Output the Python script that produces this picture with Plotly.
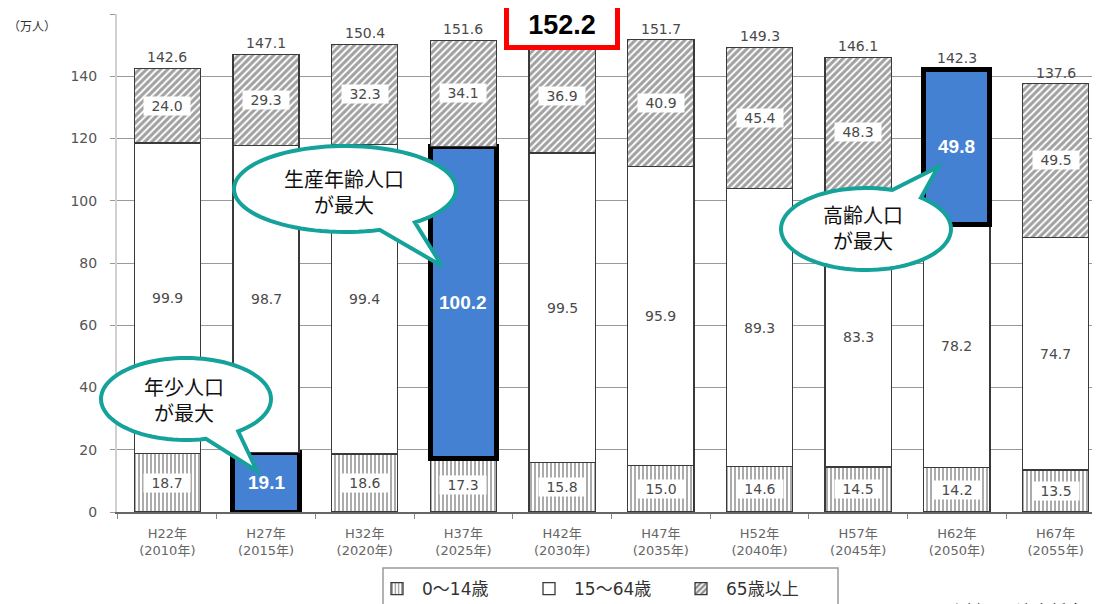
import math
import plotly.graph_objects as go

# ---------------- data ----------------
categories = ["H22年<br>(2010年)", "H27年<br>(2015年)", "H32年<br>(2020年)", "H37年<br>(2025年)",
              "H42年<br>(2030年)", "H47年<br>(2035年)", "H52年<br>(2040年)", "H57年<br>(2045年)",
              "H62年<br>(2050年)", "H67年<br>(2055年)"]
age_0_14 = [18.7, 19.1, 18.6, 17.3, 15.8, 15.0, 14.6, 14.5, 14.2, 13.5]
age_15_64 = [99.9, 98.7, 99.4, 100.2, 99.5, 95.9, 89.3, 83.3, 78.2, 74.7]
age_65_plus = [24.0, 29.3, 32.3, 34.1, 36.9, 40.9, 45.4, 48.3, 49.8, 49.5]
totals = [142.6, 147.1, 150.4, 151.6, 152.2, 151.7, 149.3, 146.1, 142.3, 137.6]
series_names = ["0～14歳", "15～64歳", "65歳以上"]
y_ticks = [0, 20, 40, 60, 80, 100, 120, 140, 160]
unit_label = "（万人）"
callout_texts = ["年少人口<br>が最大", "生産年齢人口<br>が最大", "高齢人口<br>が最大"]
source_text = "資料：以津市将来人口推計"

# ---------------- style ----------------
PAGE_OFF = 8                      # default body margin of the page
W, H = 1100 - PAGE_OFF, 604 - PAGE_OFF
ML, MR, MT, MB = 117 - PAGE_OFF, 0, 14 - PAGE_OFF, 92
PW, PH = W - ML - MR, H - MT - MB
BLUE = "#4581d3"
TEAL = "#14a29a"
NUM_FONT = "DejaVu Sans, Noto Sans CJK JP"
JP_FONT = "Noto Sans CJK JP, DejaVu Sans"
BOLD_FONT = "Liberation Sans Narrow, Liberation Sans, Arial"


def px(x, y):
    """screen pixel position -> paper coordinates"""
    return (x - PAGE_OFF - ML) / PW, 1 - (y - PAGE_OFF - MT) / PH


def argmax(vals):
    return max(range(len(vals)), key=lambda i: vals[i])


hi0 = argmax(age_0_14)
hi1 = argmax(age_15_64)
hi2 = argmax(age_65_plus)
hitot = argmax(totals)
n = len(categories)


def colors(hi):
    return [BLUE if i == hi else "white" for i in range(n)]


def lw(hi):
    return [5 if i == hi else 1.3 for i in range(n)]


def lc(hi):
    return ["black" if i == hi else "#3a3a3a" for i in range(n)]


def pat(hi, shape):
    return [("" if i == hi else shape) for i in range(n)]


fig = go.Figure()
fig.add_trace(go.Bar(
    x=categories, y=age_0_14, name=series_names[0],
    marker=dict(color=colors(hi0), line=dict(color=lc(hi0), width=lw(hi0)),
                pattern=dict(shape=pat(hi0, "|"), fgcolor="#3a3a3a", bgcolor="white",
                             size=4, solidity=0.45)),
    width=0.67,
))
fig.add_trace(go.Bar(
    x=categories, y=age_15_64, name=series_names[1],
    marker=dict(color=colors(hi1), line=dict(color=lc(hi1), width=lw(hi1))),
    width=0.67,
))
fig.add_trace(go.Bar(
    x=categories, y=age_65_plus, name=series_names[2],
    marker=dict(color=colors(hi2), line=dict(color=lc(hi2), width=lw(hi2)),
                pattern=dict(shape=pat(hi2, "/"), fgcolor="#1e1e1e", bgcolor="white",
                             size=5, solidity=0.62)),
    width=0.67,
))

annotations = []
# segment labels
for series, base_list, hi, boxed in [
    (age_0_14, [0] * n, hi0, True),
    (age_15_64, age_0_14, hi1, False),
    (age_65_plus, [a + b for a, b in zip(age_0_14, age_15_64)], hi2, True),
]:
    for i in range(n):
        mid = base_list[i] + series[i] / 2
        if i == hi:
            annotations.append(dict(x=categories[i], y=mid, xref="x", yref="y",
                                    text=f"<b>{series[i]:.1f}</b>", showarrow=False,
                                    font=dict(family=BOLD_FONT, size=19, color="white")))
        else:
            annotations.append(dict(x=categories[i], y=mid, xref="x", yref="y",
                                    text=f"{series[i]:.1f}", showarrow=False,
                                    bgcolor="white" if boxed else None,
                                    width=44 if boxed else None, borderpad=1,
                                    font=dict(family=NUM_FONT, size=14, color="#4a4a4a")))

# total labels
for i in range(n):
    if i == hitot:
        annotations.append(dict(x=categories[i], y=totals[i], xref="x", yref="y",
                                text=f"<b>{totals[i]:.1f}</b>", showarrow=False,
                                yanchor="bottom", yshift=-12, width=106, height=40,
                                bgcolor="white", bordercolor="#ff0000", borderwidth=5,
                                borderpad=0,
                                font=dict(family=BOLD_FONT, size=27, color="black")))
    else:
        annotations.append(dict(x=categories[i], y=totals[i], xref="x", yref="y",
                                text=f"{totals[i]:.1f}", showarrow=False,
                                yanchor="bottom", yshift=1,
                                font=dict(family=NUM_FONT, size=14, color="#4a4a4a")))

# unit label
ux, uy = px(32, 26)
annotations.append(dict(x=ux, y=uy, xref="paper", yref="paper", text=unit_label,
                        showarrow=False, xanchor="center", yanchor="middle",
                        font=dict(family=JP_FONT, size=12, color="#333")))

# source text (cut off at the bottom)
sx, sy = px(946, 596)
annotations.append(dict(x=sx, y=sy, xref="paper", yref="paper", text=source_text,
                        showarrow=False, xanchor="left", yanchor="top",
                        font=dict(family=JP_FONT, size=17, color="#111")))


# ---------------- speech bubbles ----------------
def bubble_path(cx, cy, rx, ry, b1, b2, tip, steps=90):
    t1 = math.atan2((b1[1] - cy) / ry, (b1[0] - cx) / rx)
    t2 = math.atan2((b2[1] - cy) / ry, (b2[0] - cx) / rx)
    d = (t2 - t1) % (2 * math.pi)
    if d > math.pi:
        t1, t2 = t2, t1
        d = 2 * math.pi - d
    span = 2 * math.pi - d
    pts = []
    for k in range(steps + 1):
        t = t2 + span * k / steps
        pts.append(px(cx + rx * math.cos(t), cy + ry * math.sin(t)))
    pts.append(px(*tip))
    s = "M {:.5f},{:.5f} ".format(*pts[0])
    s += " ".join("L {:.5f},{:.5f}".format(*p) for p in pts[1:])
    return s + " Z"


bubbles = [
    # cx, cy, rx, ry, base1, base2, tip, text centre
    (186, 399, 85, 41, (205, 437), (236, 430), (257, 471), (184, 399)),
    (345, 189, 111, 43, (378, 228), (414, 222), (442, 266), (344, 191)),
    (866, 229, 85, 41, (893, 189), (924, 196), (938, 167), (863, 227)),
]
shapes = []
for (cx, cy, rx, ry, b1, b2, tip, tc), txt in zip(bubbles, callout_texts):
    shapes.append(dict(type="path", xref="paper", yref="paper",
                       path=bubble_path(cx, cy, rx, ry, b1, b2, tip),
                       fillcolor="white", line=dict(color=TEAL, width=4), layer="above"))
    tx, ty = px(*tc)
    annotations.append(dict(x=tx, y=ty, xref="paper", yref="paper", text=txt,
                            showarrow=False, xanchor="center", yanchor="middle",
                            font=dict(family=JP_FONT, size=20, color="#111")))

# legend frame (runs off the bottom edge)
lx0, ly0 = px(383, 568)
lx1, ly1 = px(838, 640)
shapes.append(dict(type="rect", xref="paper", yref="paper", x0=lx0, y0=ly0, x1=lx1, y1=ly1,
                   line=dict(color="#9a9a9a", width=1.5), fillcolor="rgba(0,0,0,0)",
                   layer="above"))

legx, legy = px(372, 589)

fig.update_layout(
    width=W, height=H,
    margin=dict(l=ML, r=MR, t=MT, b=MB, autoexpand=False),
    barmode="stack",
    plot_bgcolor="white", paper_bgcolor="white",
    font=dict(family=JP_FONT, color="#555"),
    showlegend=True,
    legend=dict(orientation="h", x=legx, y=legy, xanchor="left", yanchor="middle",
                entrywidth=97, entrywidthmode="pixels", itemwidth=40,
                font=dict(family=NUM_FONT, size=17, color="#333"),
                bgcolor="rgba(0,0,0,0)", traceorder="normal", itemclick=False),
    xaxis=dict(range=[-0.51, 9.45], tickson="boundaries", ticks="outside", ticklen=5,
               tickcolor="#888", showline=True, linecolor="#666", linewidth=1.5,
               ticklabelstandoff=9,
               tickfont=dict(family=NUM_FONT, size=13, color="#666"), showgrid=False,
               fixedrange=True),
    yaxis=dict(range=[0, 160], tickvals=y_ticks, showgrid=True, gridcolor="#9a9a9a",
               gridwidth=1, showline=True, linecolor="#d0d0d0", linewidth=2,
               ticks="outside", ticklen=5, tickcolor="#999", zeroline=False,
               ticklabelstandoff=10,
               tickfont=dict(family=NUM_FONT, size=14, color="#555"), fixedrange=True),
    annotations=annotations,
    shapes=shapes,
)

fig.write_html("out.html")
